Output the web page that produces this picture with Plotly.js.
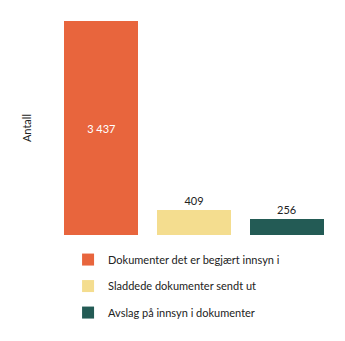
<!DOCTYPE html>
<html><head><meta charset="utf-8">
<script src="https://cdn.plot.ly/plotly-3.0.1.min.js"></script>
<style>html,body{margin:0;padding:0;background:#fff}</style>
</head><body>
<div id="chart" style="width:345px;height:341px"></div>
<script>
const categories = ["Dokumenter det er begjært innsyn i", "Sladdede dokumenter sendt ut", "Avslag på innsyn i dokumenter"];
const values = [3437, 409, 256];
const colors = ["#E8653D", "#F4DD8F", "#235B55"];
const yTitle = "Antall";

const FONT = "Lato, 'Open Sans', sans-serif";
const traces = categories.map((c, i) => ({
  type: "bar",
  name: c,
  x: [c],
  y: [values[i]],
  marker: {color: colors[i]},
  texttemplate: "%{y:,}",
  textposition: i === 0 ? "inside" : "outside",
  insidetextanchor: "middle",
  textangle: 0,
  textfont: {family: FONT, size: 11, color: i === 0 ? "#ffffff" : "#222222"},
  cliponaxis: false,
  legendgroup: "g" + i,
  hoverinfo: "none"
}));

const layout = {
  width: 345, height: 341,
  margin: {l: 55, r: 12, t: 21, b: 106},
  separators: ", ",
  barmode: "stack",
  bargap: 0.2,
  paper_bgcolor: "#ffffff",
  plot_bgcolor: "#ffffff",
  font: {family: FONT, size: 11, color: "#222222"},
  xaxis: {showticklabels: false, showgrid: false, zeroline: false, showline: false, ticks: ""},
  yaxis: {range: [0, 3437], showticklabels: false, showgrid: false, zeroline: false, showline: false, ticks: "",
          title: {text: yTitle, standoff: 20, font: {family: FONT, size: 11, color: "#222222"}}},
  showlegend: true,
  legend: {orientation: "v", x: 0.047, xanchor: "left", y: -0.047, yanchor: "top",
           traceorder: "grouped", tracegroupgap: 7.5, itemwidth: 30,
           font: {family: FONT, size: 11, color: "#222222"}, bgcolor: "rgba(0,0,0,0)"}
};
Plotly.newPlot("chart", traces, layout, {staticPlot: true, displayModeBar: false});
</script>
</body></html>
